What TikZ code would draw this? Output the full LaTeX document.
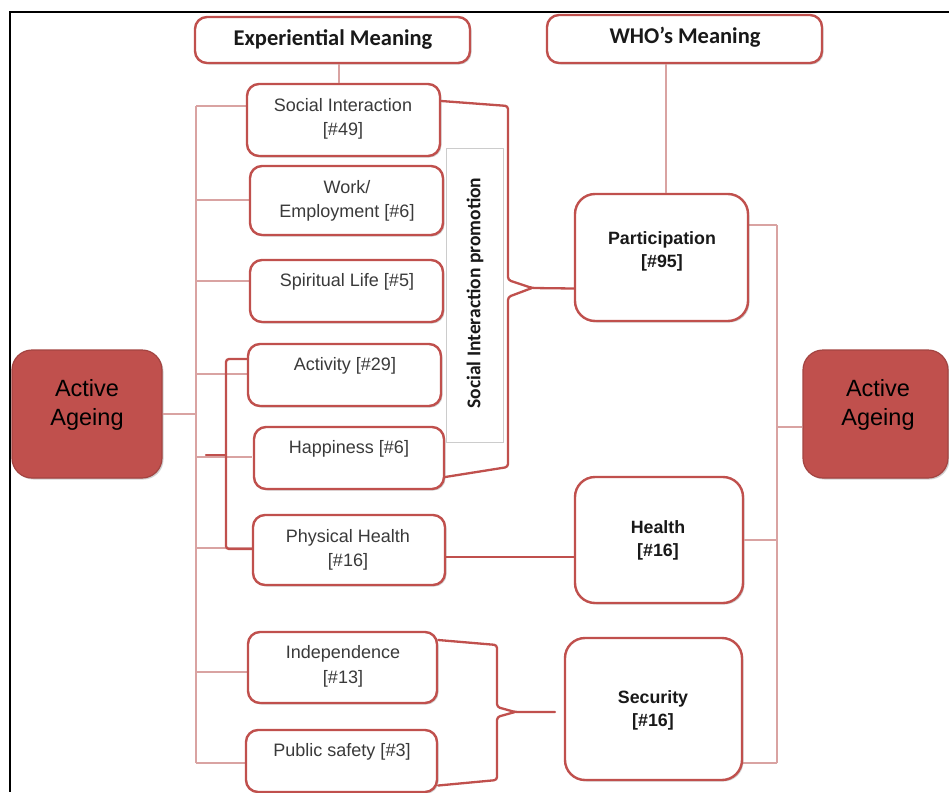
\documentclass[tikz,border=0pt]{standalone}
\usepackage{fontspec}
\setmainfont{Liberation Sans}
\newfontfamily\calfont{Carlito}
\usetikzlibrary{shadows}
\definecolor{bred}{HTML}{C0504D}
\definecolor{tline}{HTML}{D9A3A2}
\definecolor{boxtxt}{HTML}{3A3A3A}
\begin{document}
\begin{tikzpicture}[x=1pt,y=-1pt,
  box/.style={draw=bred, line width=2.4pt, fill=white, rounded corners=12pt, inner sep=0pt,
    drop shadow={shadow xshift=1.5pt,shadow yshift=-1.5pt,opacity=.3,fill=black!60}},
  bigbox/.style={box, rounded corners=20pt},
  redbox/.style={draw=bred!85!black, line width=1.2pt, fill=bred, rounded corners=20pt, inner sep=0pt,
    drop shadow={shadow xshift=1.5pt,shadow yshift=-1.5pt,opacity=.3,fill=black!60}},
  txt/.style={align=center, font=\fontsize{18}{24.5}\selectfont, text=boxtxt, inner sep=0pt},
  btxt/.style={align=center, font=\fontsize{17.8}{23}\selectfont\bfseries, text=black!90, inner sep=0pt},
  htxt/.style={font=\calfont\fontsize{22.5}{24}\selectfont\bfseries, text=black!90, inner sep=0pt},
  atxt/.style={align=center, font=\fontsize{23.5}{29}\selectfont, text=black, inner sep=0pt},
  tree/.style={draw=tline, line width=1.3pt},
  brack/.style={draw=bred, line width=2.3pt, rounded corners=3pt, line cap=round},
]
\useasboundingbox (0,0) rectangle (949,792);
\fill[white] (0,0) rectangle (949,792);
% frame
\draw[black, line width=2pt] (949,12) -- (10,12) -- (10,792);

% coordinates for trees and braces
\coordinate (b1) at (196,106);
\coordinate (b2) at (196,200);
\coordinate (b3) at (196,281);
\coordinate (b4) at (196,374);
\coordinate (b5) at (196,457);
\coordinate (b6) at (196,548);
\coordinate (b7) at (196,672);
\coordinate (b8) at (196,763);
\coordinate (r1) at (777,225);
\coordinate (r2) at (777,427);
\coordinate (r3) at (777,763);

% left tree (behind boxes)
\draw[tree] (b1) -- (b8);
\foreach \b in {b1,b2,b3,b4,b5,b6,b7,b8} \draw[tree] (\b) -- ++(56,0);
% right tree
\draw[tree] (r1) -- (r3);
\draw[tree] (r1) -- ++(-34,0);
\draw[tree] (r3) -- ++(-38,0);

% header boxes
\node[box, minimum width=275pt, minimum height=46pt] (exp) at (332.5,40) {};
\node[box, minimum width=275pt, minimum height=48pt] (who) at (684.5,39) {};
\node[htxt] (expt) at (333,39) {Experiential Meaning};
\node[htxt] (whot) at (685,37) {WHO’s Meaning};

% experiential boxes
\node[box, minimum width=193pt, minimum height=72pt] (si)   at (343.5,120) {};
\node[box, minimum width=193pt, minimum height=69pt] (work) at (346.5,200.5) {};
\node[box, minimum width=193pt, minimum height=62pt] (spir) at (346.5,291) {};
\node[box, minimum width=193pt, minimum height=62pt] (act)  at (344.5,375) {};
\node[box, minimum width=190pt, minimum height=62pt] (hap)  at (349,458) {};
\node[box, minimum width=192pt, minimum height=70pt] (phys) at (349,550) {};
\node[box, minimum width=189pt, minimum height=71pt] (ind)  at (342.5,667.5) {};
\node[box, minimum width=191pt, minimum height=62pt] (pub)  at (341.5,761) {};

\node[txt] (sit)   at (343,119) {Social Interaction\\{[\#49]}};
\node[txt] (workt) at (347,201) {Work/\\Employment [\#6]};
\node[txt] (spirt) at (347,282) {Spiritual Life [\#5]};
\node[txt] (actt)  at (345,366) {Activity [\#29]};
\node[txt] (hapt)  at (349,449) {Happiness [\#6]};
\node[txt] (physt) at (348,550) {Physical Health\\{[\#16]}};
\node[txt] (indt)  at (343,666.5) {Independence\\{[\#13]}};
\node[txt] (pubt)  at (342,752) {Public safety [\#3]};

% WHO boxes
\node[bigbox, minimum width=173pt, minimum height=127pt] (part)   at (661.5,257.5) {};
\node[bigbox, minimum width=168pt, minimum height=126pt] (health) at (659,540) {};
\node[bigbox, minimum width=177pt, minimum height=142pt] (sec)    at (653.5,709) {};
\node[btxt] (partt)   at (662,251.5) {Participation\\{[\#95]}};
\node[btxt] (healtht) at (658,540.5) {Health\\{[\#16]}};
\node[btxt] (sect)    at (653,710) {Security\\{[\#16]}};

% Active Ageing boxes
\node[redbox, minimum width=150pt, minimum height=128pt] (aaL) at (87,414) {};
\node[redbox, minimum width=145pt, minimum height=128pt] (aaR) at (875.5,414) {};
\node[atxt] (aaLt) at (87,404.5) {Active\\Ageing};
\node[atxt] (aaRt) at (878,405) {Active\\Ageing};

% promotion label box
\node[draw=black!20, line width=0.8pt, fill=white, minimum width=57pt, minimum height=294pt, inner sep=0pt] (promo) at (474.5,295) {};
\node[rotate=90, font=\calfont\fontsize{19.5}{22}\selectfont\bfseries, text=black!90, inner sep=0pt] (promot) at (475,293) {Social Interaction promotion};

% connectors
\draw[tree] (aaL.east) -- (aaL.east -| b1);
\draw[tree] (r2) -- (r2 -| aaR.west);
\draw[tree] (health.east) -- (health.east -| r1);
\draw[tree] ([xshift=6.5pt]exp.south) -- ([xshift=6.5pt]exp.south |- si.north);
\draw[tree] ([xshift=4.5pt]part.north) -- ([xshift=4.5pt]part.north |- who.south);

% brace: activity / happiness / physical health
\coordinate (lbt) at (226,359);
\coordinate (lbb) at (226,549);
\coordinate (lbm) at (226,455);
\coordinate (lbtip) at (206,455);
\draw[brack] (lbt -| act.west) -- (lbt) -- (lbb) -- (lbb -| phys.west);
\draw[brack] (lbm) -- (lbtip);

% physical health -> health
\draw[brack] ([yshift=-7pt]phys.east) -- ([yshift=-7pt]phys.east -| health.west);

% social interaction promotion brace
\coordinate (p1) at (508,106);
\coordinate (p2) at (508,280);
\coordinate (pt) at (532,288);
\coordinate (p3) at (508,297);
\coordinate (p4) at (508,467);
\draw[brack] ([yshift=19pt]si.east) -- (p1) -- (p2) -- (pt) -- ([yshift=-31pt]part.west);
\draw[brack] (pt) -- (p3) -- (p4) -- ([yshift=-19pt]hap.east);

% security brace
\coordinate (s1) at (497,645);
\coordinate (s2) at (497,707);
\coordinate (st) at (515,712);
\coordinate (s3) at (497,717);
\coordinate (s4) at (497,780);
\coordinate (sectip) at (555,712);
\draw[brack] ([yshift=27.5pt]ind.east) -- (s1) -- (s2) -- (st) -- (sectip);
\draw[brack] (st) -- (s3) -- (s4) -- ([yshift=-24.5pt]pub.east);
\end{tikzpicture}
\end{document}
